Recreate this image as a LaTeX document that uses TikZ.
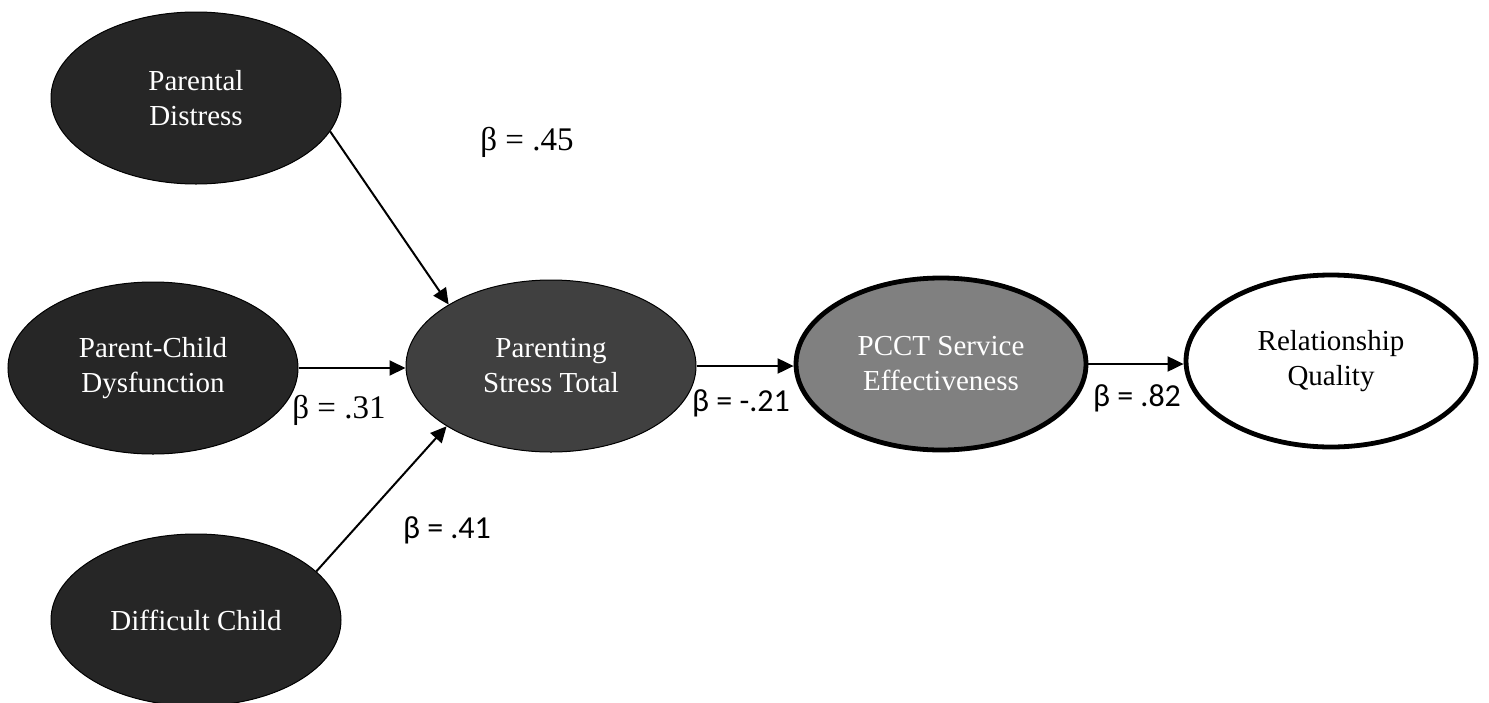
\documentclass[tikz,border=0pt]{standalone}
\usepackage{fontspec}
\setmainfont{Liberation Serif}
\newfontfamily\timesfont{Liberation Serif}
\newfontfamily\betafont{Carlito}
\usetikzlibrary{shapes.geometric,arrows.meta}
\definecolor{darkfill}{HTML}{262626}
\definecolor{stressfill}{HTML}{404040}
\definecolor{servicefill}{HTML}{808080}

\begin{document}
\begin{tikzpicture}[x=0.5pt,y=-0.5pt]
    \tikzstyle{latent}=[ellipse,draw,inner sep=0pt,minimum width=145pt,minimum height=86pt,
      align=center,text=white,line width=0.5pt,font=\timesfont\fontsize{14.5}{17.5}\selectfont]
    \tikzstyle{arr}=[-{Triangle[length=8pt,width=7.5pt]},line width=1pt]
    \tikzstyle{coef}=[inner sep=0pt,font=\fontsize{16.5}{19}\selectfont\timesfont]
    \tikzstyle{coefb}=[inner sep=0pt,font=\fontsize{16}{19}\selectfont\betafont]
    \useasboundingbox (0,0) rectangle (1489,702);
    \clip (0,0) rectangle (1489,702);
    \node[latent,fill=darkfill] at (196,98) (pd) {Parental\\Distress};
    \node[latent,fill=darkfill] at (153,368) (pcd) {Parent-Child\\Dysfunction};
    \node[latent,fill=darkfill] at (196,620) (dc) {Difficult Child};
    \node[latent,fill=stressfill] at (551,366) (pst) {Parenting\\Stress Total};
    \node[latent,fill=servicefill,line width=2.4pt] at (941,364) (pcct) {PCCT Service\\Effectiveness};
    \node[latent,fill=white,text=black,line width=2.4pt] at (1331,361) (rq) {Relationship\\Quality};
    \draw[arr] (pd.-14) -- (pst.149);
    \draw[arr] (dc.22) -- (pst.-150);
    \foreach \i/\j in {pcd/pst,pst/pcct,pcct/rq}{
      \draw[arr] (\i.east) -- (\i.east -| \j.west);
    }
    \node[coef] at (527,142) (b45) {\timesfont β = .45};
    \node[coef] at (339,410) (b31) {\timesfont β = .31};
    \node[coefb] at (447,530) (b41) {β = .41};
    \node[coefb] at (741,403) (b21) {β = -.21};
    \node[coefb] at (1137,398) (b82) {β = .82};
  \end{tikzpicture}
\end{document}
